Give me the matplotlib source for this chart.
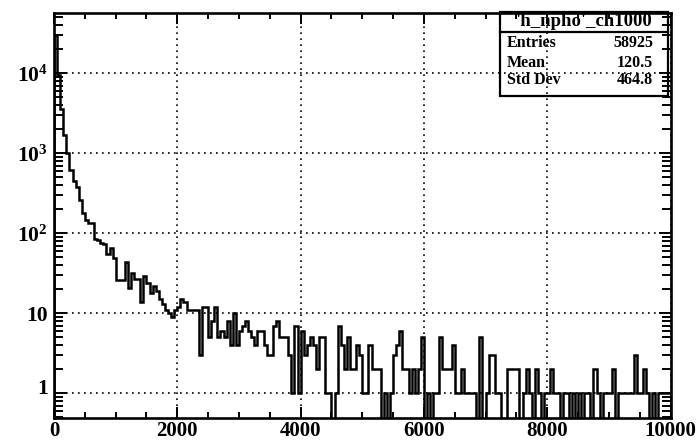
import numpy as np
import matplotlib.pyplot as plt
from matplotlib.patches import Rectangle
from matplotlib.ticker import MultipleLocator, FixedLocator, LogLocator, NullFormatter
import matplotlib.transforms as mtransforms

# histogram of photon counts, 200 bins of width 50 between 0 and 10000
x_min, x_max, n_bins = 0, 10000, 200
counts = [
    30000, 9500, 3600, 1700, 1000, 620, 450, 380, 263, 178,
    148, 135, 133, 84, 82, 76, 74, 55, 65, 49,
    26, 26, 26, 44, 21, 32, 27, 27, 14, 29,
    24, 18, 22, 19, 15, 13, 11, 10, 9, 11,
    12, 15, 14, 11, 11, 11, 11, 3, 12, 12,
    5, 8, 12, 5, 6, 5, 8, 4, 10, 4,
    6, 7, 8, 6, 5, 4, 6, 6, 4, 3,
    3, 7, 8, 5, 5, 5, 3, 1, 7, 1,
    6, 3, 4, 5, 4, 2, 5, 5, 1, 1,
    0, 1, 7, 4, 2, 5, 2, 2, 4, 3,
    1, 1, 4, 2, 2, 2, 0, 1, 0, 1,
    3, 4, 6, 2, 2, 1, 2, 1, 2, 5,
    0, 1, 0, 1, 1, 5, 2, 2, 2, 4,
    1, 1, 2, 1, 1, 1, 1, 0, 5, 0,
    1, 3, 3, 1, 1, 0, 0, 2, 2, 2,
    2, 0, 1, 2, 1, 0, 2, 1, 0, 1,
    1, 2, 1, 1, 0, 1, 1, 0, 1, 0,
    1, 0, 1, 1, 0, 2, 1, 0, 1, 1,
    1, 2, 0, 1, 1, 1, 1, 1, 3, 1,
    1, 2, 1, 0, 1, 0, 1, 1, 1, 1,
]

hist_name = "'h_npho'_ch1000"
stat_names = ["Entries", "Mean", "Std Dev"]
stat_values = ["58925", "120.5", "464.8"]

y_ticks = [1, 10, 100, 1000, 10000]
y_labels = ["1", "10", "$10^{2}$", "$10^{3}$", "$10^{4}$"]

plt.rcParams["font.family"] = ["Liberation Serif", "DejaVu Serif"]
plt.rcParams["font.weight"] = "bold"
plt.rcParams["mathtext.fontset"] = "custom"
plt.rcParams["mathtext.rm"] = "Liberation Serif:bold"
plt.rcParams["mathtext.bf"] = "Liberation Serif:bold"
plt.rcParams["mathtext.it"] = "Liberation Serif:bold"

fig = plt.figure(figsize=(6.97, 4.41), dpi=100)
ax = fig.add_axes([0.0775, 0.0528, 0.8845, 0.9177])

edges = np.linspace(x_min, x_max, n_bins + 1)
vals = np.asarray(counts, dtype=float)
# empty bins drop below the visible range, as in ROOT
vals = np.where(vals > 0, vals, 0.1)
ax.stairs(vals, edges, baseline=0.1, color="black", linewidth=1.8, zorder=3)

ax.set_yscale("log")
ax.set_xlim(x_min, x_max)
ax.set_ylim(0.495, 56700)

ax.xaxis.set_major_locator(MultipleLocator(2000))
ax.xaxis.set_minor_locator(MultipleLocator(500))
ax.yaxis.set_major_locator(FixedLocator(y_ticks))
ax.yaxis.set_minor_locator(LogLocator(base=10, subs=np.arange(2, 10)))
ax.yaxis.set_minor_formatter(NullFormatter())
ax.set_yticklabels(y_labels)

ax.tick_params(which="both", direction="in", top=True, right=True,
               width=1.4, labelsize=15.5)
ax.tick_params(axis="x", which="major", length=8, pad=2.5, labelsize=15)
ax.tick_params(axis="x", which="minor", length=4.3)
ax.tick_params(axis="y", which="major", length=9, pad=4.5)
ax.tick_params(axis="y", which="minor", length=6.5)

for lab in ax.get_xticklabels() + ax.get_yticklabels():
    lab.set_fontweight("bold")

# the label of the lowest decade sits a little above its tick
for tick in ax.yaxis.get_major_ticks():
    if tick.get_loc() == 1:
        off = mtransforms.ScaledTranslation(0, 7 / 100, fig.dpi_scale_trans)
        tick.label1.set_transform(tick.label1.get_transform() + off)

for sp in ax.spines.values():
    sp.set_linewidth(1.9)

ax.grid(True, which="major", color="black", linestyle=(0, (1, 2.6)),
        linewidth=1.2)

# statistics box
bx0, bx1 = 0.7234, 0.9964
by0, by_div, by1 = 0.7957, 0.9523, 1.003
ax.add_patch(Rectangle((bx0, by0), bx1 - bx0, by1 - by0, transform=ax.transAxes,
                       fill=False, edgecolor="black", linewidth=1.6,
                       clip_on=False, zorder=5))
ax.plot([bx0, bx1], [by_div, by_div], transform=ax.transAxes, color="black",
        linewidth=1.6, clip_on=False, zorder=5)
ax.text((bx0 + bx1) / 2, 0.9785, hist_name, transform=ax.transAxes,
        ha="center", va="center", fontsize=13.5, fontweight="bold", zorder=6)
row_y = [0.926, 0.877, 0.8345]
for name, value, yy in zip(stat_names, stat_values, row_y):
    ax.text(0.734, yy, name, transform=ax.transAxes, ha="left", va="center",
            fontsize=11.5, fontweight="bold", zorder=6)
    ax.text(0.972, yy, value, transform=ax.transAxes, ha="right", va="center",
            fontsize=11.5, fontweight="bold", zorder=6)

fig.savefig("out.png", dpi=100)
